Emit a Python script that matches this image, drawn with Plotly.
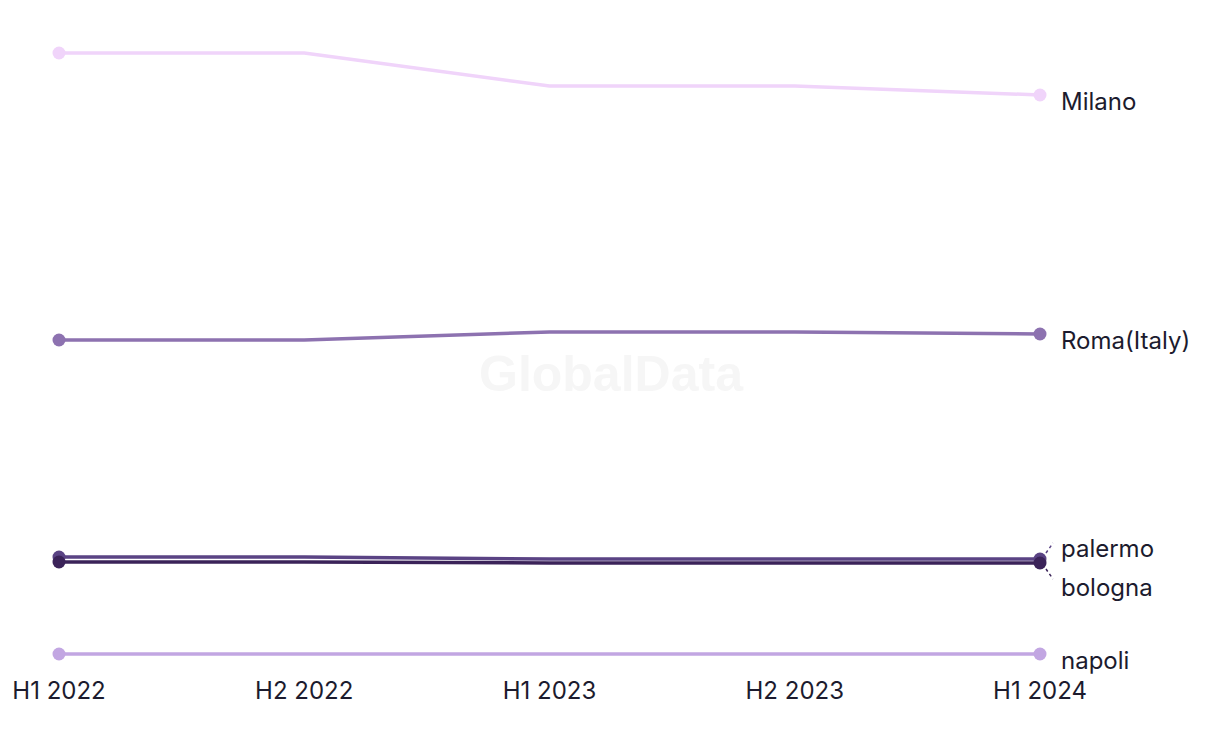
import plotly.graph_objects as go

periods = ["H1 2022", "H2 2022", "H1 2023", "H2 2023", "H1 2024"]
milano = [6470, 6470, 6140, 6140, 6050]
roma = [3600, 3600, 3680, 3680, 3660]
palermo = [1430, 1430, 1410, 1410, 1410]
bologna = [1380, 1380, 1370, 1370, 1370]
napoli = [460, 460, 460, 460, 460]

series = [
    ("Milano", milano, "#f0d4fa"),
    ("Roma(Italy)", roma, "#8d72b0"),
    ("palermo", palermo, "#5a4384"),
    ("bologna", bologna, "#3b2359"),
    ("napoli", napoli, "#c2a6e2"),
]

last = len(periods) - 1
marker_sizes = [13 if i in (0, last) else 0 for i in range(len(periods))]

fig = go.Figure()
for name, vals, col in series:
    fig.add_trace(go.Scatter(
        x=list(range(len(periods))), y=vals, name=name, mode="lines+markers",
        line=dict(color=col, width=3.5),
        marker=dict(color=col, size=marker_sizes, opacity=1, line=dict(width=0)),
        cliponaxis=False, showlegend=False, hoverinfo="x+y+name"))

font_family = "Inter, Liberation Sans, sans-serif"
label_font = dict(family=font_family, size=24, color="#1c1b2e")
offsets = {"Milano": -6, "Roma(Italy)": -6, "palermo": 11, "bologna": -24, "napoli": -6}
for name, vals, col in series:
    fig.add_annotation(x=last, y=vals[-1], xref="x", yref="y", text=name,
                       showarrow=False, xanchor="left", yanchor="middle",
                       xshift=19, yshift=offsets[name], font=label_font)

# dashed leader lines for crowded labels
fig.add_shape(type="line", xref="paper", yref="y", xsizemode="pixel", ysizemode="pixel",
              xanchor=1, yanchor=palermo[-1], x0=6, y0=6, x1=13, y1=16,
              line=dict(color="#5a4384", width=1.5, dash="dot"))
fig.add_shape(type="line", xref="paper", yref="y", xsizemode="pixel", ysizemode="pixel",
              xanchor=1, yanchor=bologna[-1], x0=6, y0=-6, x1=13, y1=-16,
              line=dict(color="#3b2359", width=1.5, dash="dot"))

fig.add_annotation(x=0.5, y=0.5, xref="paper", yref="paper", text="<b>GlobalData</b>",
                   showarrow=False, font=dict(family="Liberation Sans, Arial", size=50, color="#f6f6f6"),
                   xshift=62, yshift=-20)

fig.update_layout(
    width=1220, height=744, paper_bgcolor="white", plot_bgcolor="white",
    margin=dict(l=57, r=180, t=33, b=70),
    xaxis=dict(range=[0, last], tickmode="array", tickvals=list(range(len(periods))),
               ticktext=periods, showgrid=False, zeroline=False, showline=False,
               ticks="", tickfont=dict(family=font_family, size=24, color="#1c1b2e")),
    yaxis=dict(range=[260, 6670], visible=False, showgrid=False, zeroline=False),
)
fig.write_html("out.html")
